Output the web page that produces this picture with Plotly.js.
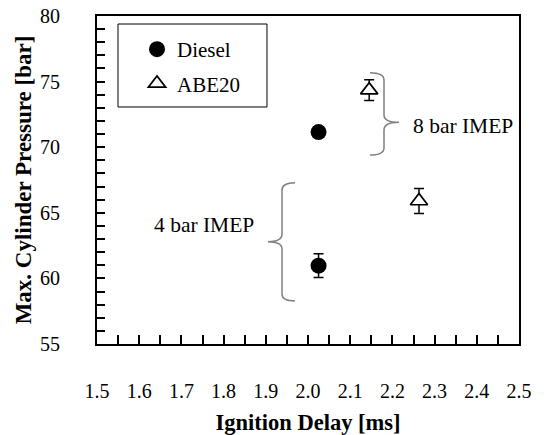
<!DOCTYPE html>
<html><head><meta charset="utf-8">
<script src="https://cdn.plot.ly/plotly-3.0.1.min.js"></script>
<style>html,body{margin:0;padding:0;background:#fff}#chart{width:547px;height:435px}</style>
</head><body><div id="chart"></div>
<script>
// ---- data ----
const seriesNames = ['Diesel', 'ABE20'];
const dieselDelay = [2.025, 2.025];     // ms
const dieselPmax  = [71.15, 60.97];     // bar
const dieselErr   = [0.4, 0.9];
const abeDelay    = [2.145, 2.263];
const abePmax     = [74.35, 65.9];
const abeErr      = [0.8, 0.95];
const loadLabels  = ['8 bar IMEP', '4 bar IMEP'];
const xTitle = 'Ignition Delay [ms]';
const yTitle = 'Max. Cylinder Pressure [bar]';

// ---- layout helpers (pixel -> paper) ----
const W = 547, H = 435, L = 97, R = 519, T = 16, B = 344;
const px = v => ((v - L) / (R - L)).toFixed(4);
const py = v => ((B - v) / (B - T)).toFixed(4);
function path(cmds) {
  return cmds.map(c => c[0] + ' ' + c.slice(1).map((v, i) => i % 2 === 0 ? px(v) : py(v)).join(',')).join(' ');
}
const FONT = 'Liberation Serif';
const braceColor = '#808080';

const traces = [
  {
    x: dieselDelay, y: dieselPmax, name: seriesNames[0], type: 'scatter', mode: 'markers',
    legendgroup: 'a',
    marker: {symbol: 'circle', size: 16, color: '#000'},
    error_y: {type: 'data', array: dieselErr, visible: true, color: '#000', thickness: 1.5, width: 5}
  },
  {
    x: abeDelay, y: abePmax, name: seriesNames[1], type: 'scatter', mode: 'markers',
    legendgroup: 'b',
    marker: {symbol: 'triangle-up', size: 15, color: '#fff', line: {color: '#000', width: 1.7}},
    error_y: {type: 'data', array: abeErr, visible: true, color: '#000', thickness: 1.5, width: 5}
  }
];

const brace4 = path([['M',295,182.7],['Q',282,182.7,282,190],['L',282,234],['Q',282,241.7,268,241.7],
                     ['Q',282,241.7,282,249],['L',282,294],['Q',282,301,295,301]]);
const brace8 = path([['M',370,72.7],['Q',384,72.7,384,80],['L',384,115],['Q',384,122.3,399,122.3],
                     ['Q',384,122.3,384,130],['L',384,148],['Q',384,155,370,155]]);

const layout = {
  width: W, height: H,
  margin: {l: L, r: W - R, t: T, b: H - B},
  paper_bgcolor: '#fff', plot_bgcolor: '#fff',
  font: {family: FONT, size: 20, color: '#000'},
  showlegend: true,
  legend: {
    x: (137 - L) / (R - L), xanchor: 'left',
    y: (B - 29) / (B - T), yanchor: 'top',
    bgcolor: 'rgba(0,0,0,0)', borderwidth: 0,
    font: {family: FONT, size: 21, color: '#000'},
    tracegroupgap: 4, traceorder: 'grouped'
  },
  xaxis: {
    range: [1.5, 2.5], tick0: 1.5, dtick: 0.1, tickformat: '.1f',
    ticks: 'inside', ticklen: 9, tickwidth: 2, tickcolor: '#000',
    minor: {dtick: 0.05, ticks: 'inside', ticklen: 9, tickwidth: 2, tickcolor: '#000', showgrid: false},
    showline: true, linewidth: 2, linecolor: '#000', mirror: true,
    showgrid: false, zeroline: false, ticklabelstandoff: 28,
    tickfont: {family: FONT, size: 20, color: '#000'},
    title: {text: xTitle, font: {family: FONT, size: 22.5, color: '#000', weight: 'bold'}, standoff: 17}
  },
  yaxis: {
    range: [55, 80], tick0: 55, dtick: 5,
    ticks: 'inside', ticklen: 8, tickwidth: 2, tickcolor: '#000',
    minor: {dtick: 1, ticks: 'inside', ticklen: 8, tickwidth: 2, tickcolor: '#000', showgrid: false},
    showline: true, linewidth: 2, linecolor: '#000', mirror: true,
    showgrid: false, zeroline: false, ticklabelstandoff: 31,
    tickfont: {family: FONT, size: 20, color: '#000'},
    title: {text: yTitle, font: {family: FONT, size: 23, color: '#000', weight: 'bold'}, standoff: 2}
  },
  shapes: [
    {type: 'rect', xref: 'paper', yref: 'paper', x0: px(118), x1: px(267), y0: py(107), y1: py(24),
     line: {color: '#000', width: 1}, fillcolor: 'rgba(0,0,0,0)'},
    {type: 'path', xref: 'paper', yref: 'paper', path: brace4, line: {color: braceColor, width: 1.5}},
    {type: 'path', xref: 'paper', yref: 'paper', path: brace8, line: {color: braceColor, width: 1.5}}
  ],
  annotations: [
    {xref: 'paper', yref: 'paper', x: px(411), y: py(126), xanchor: 'left', yanchor: 'middle',
     text: loadLabels[0], showarrow: false, font: {family: FONT, size: 21.5, color: '#000'}},
    {xref: 'paper', yref: 'paper', x: px(203.5), y: py(225), xanchor: 'center', yanchor: 'middle',
     text: loadLabels[1], showarrow: false, font: {family: FONT, size: 21.5, color: '#000'}}
  ]
};

Plotly.newPlot('chart', traces, layout, {displayModeBar: false, staticPlot: true});
</script>
</body></html>
